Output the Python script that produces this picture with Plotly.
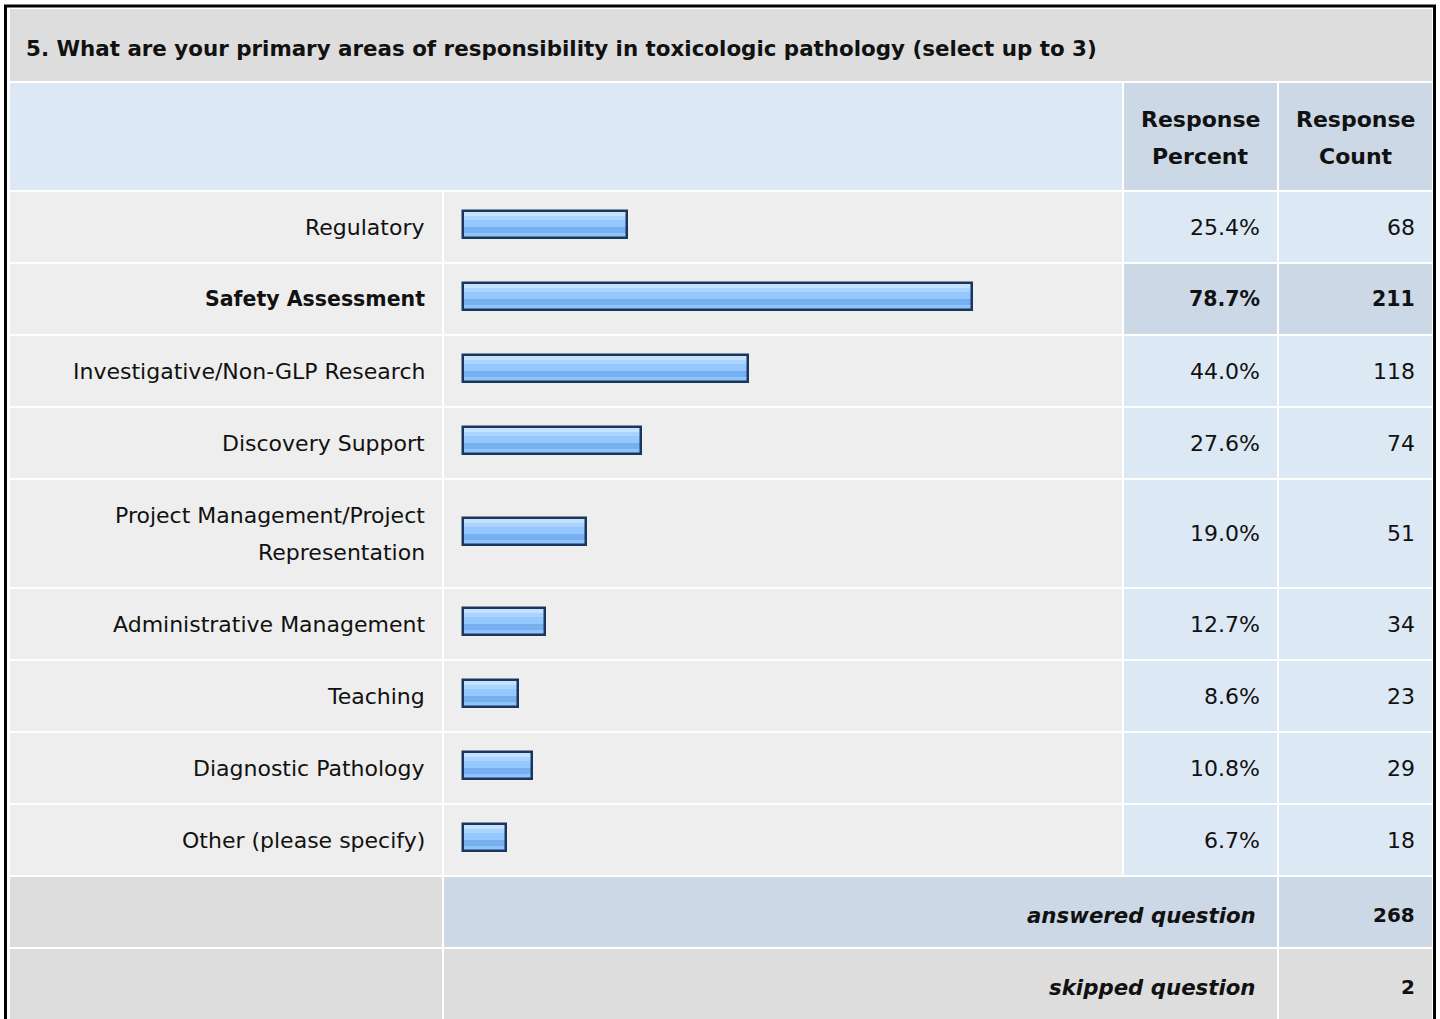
import textwrap
import plotly.graph_objects as go

# ---------------- data ----------------
title = "5. What are your primary areas of responsibility in toxicologic pathology (select up to 3)"
categories = [
    "Regulatory",
    "Safety Assessment",
    "Investigative/Non-GLP Research",
    "Discovery Support",
    "Project Management/Project Representation",
    "Administrative Management",
    "Teaching",
    "Diagnostic Pathology",
    "Other (please specify)",
]
percents = [25.4, 78.7, 44.0, 27.6, 19.0, 12.7, 8.6, 10.8, 6.7]
counts = [68, 211, 118, 74, 51, 34, 23, 29, 18]
header_percent = ["Response", "Percent"]
header_count = ["Response", "Count"]
answered_label = "answered question"
skipped_label = "skipped question"
answered = 268
skipped = 2

# ---------------- layout constants ----------------
W, H = 1440, 1019
FONT = "DejaVu Sans"
FS = 22
FS_BOLD = 20.5
TXT = "#111111"
C_TITLE = "#DDDDDD"
C_HEAD_L = "#DDE8F5"
C_HEAD_R = "#CCD8E6"
C_ROW = "#EEEEEE"
C_VAL = "#DDE8F5"
C_VAL_HI = "#CCD8E6"
C_FOOT = "#DDDDDD"

# columns (pixel edges)
LAB = (10, 442)
BAR = (444, 1122)
PCT = (1124, 1277)
CNT = (1279, 1432)
ROW_START = 192
ROW_H1 = 70
LINE_STEP = 37
GAP = 2
PAD = 3  # annotation inner padding compensation

# bar axis mapping
ZERO_PX = 462.5
PX_PER_PCT = 6.48

shapes = []
annotations = []


def rect(x0, x1, y0, y1, color):
    shapes.append(dict(type="rect", xref="paper", yref="y", x0=x0 / W, x1=x1 / W,
                       y0=y0, y1=y1, fillcolor=color, line=dict(width=0), layer="below"))


def text(x, y, s, anchor="right", bold=False, italic=False, size=FS):
    if anchor == "right":
        x += PAD
    elif anchor == "left":
        x -= PAD - 1
    annotations.append(dict(xref="paper", yref="y", x=x / W, y=y, text=s, showarrow=False,
                            xanchor=anchor, yanchor="middle",
                            font=dict(family=FONT, size=size, color=TXT,
                                      weight="bold" if bold else "normal",
                                      style="italic" if italic else "normal")))


# outer frame
shapes.append(dict(type="rect", xref="paper", yref="y", x0=5.5 / W, x1=1434.5 / W,
                   y0=6, y1=1040, fillcolor="white", line=dict(color="black", width=3),
                   layer="below"))

# title row
rect(10, 1432, 9, 81, C_TITLE)
text(26, 48, title, anchor="left", bold=True, size=21.4)

# header row
rect(10, 1122, 83, 190, C_HEAD_L)
rect(PCT[0], PCT[1], 83, 190, C_HEAD_R)
rect(CNT[0], CNT[1], 83, 190, C_HEAD_R)
hc = (83 + 190) / 2
for i, (a, b) in enumerate(zip(header_percent, header_count)):
    yy = hc - LINE_STEP / 2 + i * LINE_STEP + 1
    text((PCT[0] + PCT[1]) / 2, yy, a, anchor="center", bold=True)
    text((CNT[0] + CNT[1]) / 2, yy, b, anchor="center", bold=True)

# data rows
top_val = max(percents)
y = ROW_START
bar_centers = []
for cat, p, c in zip(categories, percents, counts):
    lines = textwrap.wrap(cat, 30)
    h = ROW_H1 + LINE_STEP * (len(lines) - 1)
    hi = p == top_val
    sz = FS_BOLD if hi else FS
    rect(LAB[0], LAB[1], y, y + h, C_ROW)
    rect(BAR[0], BAR[1], y, y + h, C_ROW)
    rect(PCT[0], PCT[1], y, y + h, C_VAL_HI if hi else C_VAL)
    rect(CNT[0], CNT[1], y, y + h, C_VAL_HI if hi else C_VAL)
    cy = y + h / 2
    for i, ln in enumerate(lines):
        ly = cy - LINE_STEP * (len(lines) - 1) / 2 + i * LINE_STEP
        text(424, ly, ln, bold=hi, size=sz)
    text(1259, cy, f"{p:.1f}%", bold=hi, size=sz)
    text(1414, cy, str(c), bold=hi, size=sz)
    bar_centers.append(cy - 2.5)
    y += h + GAP

# footer rows
rect(LAB[0], LAB[1], y, y + ROW_H1, C_FOOT)
rect(BAR[0], PCT[1], y, y + ROW_H1, C_HEAD_R)
rect(CNT[0], CNT[1], y, y + ROW_H1, C_HEAD_R)
text(1255, y + ROW_H1 / 2 + 3, answered_label, bold=True, italic=True, size=21.3)
text(1414, y + ROW_H1 / 2 + 3, str(answered), bold=True, size=20)
y += ROW_H1 + GAP
rect(LAB[0], LAB[1], y, y + ROW_H1 + 20, C_FOOT)
rect(BAR[0], PCT[1], y, y + ROW_H1 + 20, C_FOOT)
rect(CNT[0], CNT[1], y, y + ROW_H1 + 20, C_FOOT)
text(1255, y + ROW_H1 / 2 + 3, skipped_label, bold=True, italic=True, size=21.3)
text(1414, y + ROW_H1 / 2 + 3, str(skipped), bold=True, size=20)

# ---------------- bars ----------------
fig = go.Figure()
BAR_W = 27  # thickness in pixel units
bands = [  # (offset from top of bar, height, colour)
    (0, BAR_W, "#94C8FF"),
    (0, 5, "#C4E1FF"),
    (5, 4, "#AAD4FF"),
    (16, 6, "#78AFEF"),
    (22, 5, "#8EC4FB"),
]
for off, hh, col in bands:
    fig.add_trace(go.Bar(
        x=percents, y=bar_centers, orientation="h", base=0,
        width=hh, offset=-BAR_W / 2 + off,
        marker=dict(color=col, line=dict(width=0)),
        hoverinfo="skip", showlegend=False,
    ))
fig.add_trace(go.Bar(
    x=percents, y=bar_centers, orientation="h", base=0,
    width=BAR_W, offset=-BAR_W / 2,
    marker=dict(color="rgba(0,0,0,0)", line=dict(color="#1B365D", width=2.5)),
    hovertext=categories, hoverinfo="text+x", showlegend=False,
))

fig.update_layout(
    width=W, height=H,
    margin=dict(l=0, r=0, t=0, b=0),
    paper_bgcolor="white", plot_bgcolor="rgba(0,0,0,0)",
    barmode="overlay", bargap=0,
    shapes=shapes, annotations=annotations,
    xaxis=dict(domain=[BAR[0] / W, BAR[1] / W],
               range=[(BAR[0] - ZERO_PX) / PX_PER_PCT, (BAR[1] - ZERO_PX) / PX_PER_PCT],
               visible=False, fixedrange=True),
    yaxis=dict(domain=[0, 1], range=[H, 0], visible=False, fixedrange=True),
)

fig.write_html(
    "out.html",
    config={"displayModeBar": False},
    post_script="document.body.style.margin='0';document.body.style.overflow='hidden';",
)
